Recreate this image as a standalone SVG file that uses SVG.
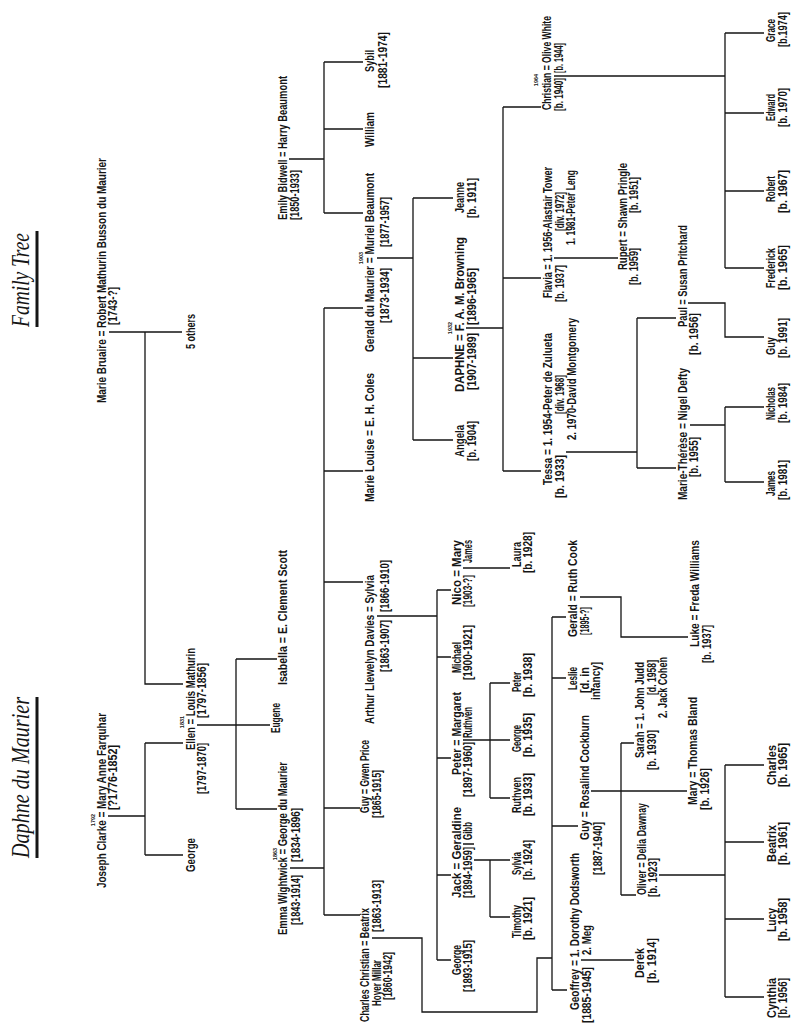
<svg xmlns="http://www.w3.org/2000/svg" width="810" height="1028" viewBox="0 0 810 1028">
<style>
text{font-family:"Liberation Sans Narrow","Liberation Sans",Arial,sans-serif;font-weight:bold;font-size:12.3px;fill:#151515}
.yr{font-size:5.5px;text-anchor:middle}
.title{font-family:"Liberation Serif","Times New Roman",serif;font-style:italic;font-weight:normal;font-size:25px}
#connectors path{fill:none;stroke:#151515;stroke-width:1.3}
.ul{stroke:#151515;stroke-width:3}
</style>
<rect width="810" height="1028" fill="#fff"/>
<g transform="matrix(0,-1,1,0,0,1028)">
<g id="titles">
<text class="title" x="170" y="29" textLength="161" lengthAdjust="spacingAndGlyphs">Daphne du Maurier</text>
<line class="ul" x1="170" y1="37" x2="331" y2="37"/>
<text class="title" x="701" y="29" textLength="94" lengthAdjust="spacingAndGlyphs">Family Tree</text>
<line class="ul" x1="701" y1="37" x2="797" y2="37"/>
</g>
<g id="connectors">
<path d="M696,109V182M696,145H344V183"/>
<path d="M212,108V145M173,145H285M173,145V183M285,145V183"/>
<path d="M303,197V270M219,236H369M219,236V277M369,236V277"/>
<path d="M160,290V324M113,324H720M113,324V360M220,324V360M446,324V363M557,324V363M720,324V363"/>
<path d="M869,289V324M815,324H966M815,324V363M899,324V363M966,324V363"/>
<path d="M90,372V422H16V537H70V552M38,552H411M38,552V567M202,552V578M350,552V566M411,552V566"/>
<path d="M412,377V437M68,437H438M68,437V451M153,437V451M270,437V451M371,437V451M438,437V451"/>
<path d="M770,377V413M588,413H830M588,413V453M670,413V453M830,413V453"/>
<path d="M184,463V474M168,474V510M111,490H168M111,490V510"/>
<path d="M288,463V510M230,490H345M230,490V510M345,490V510"/>
<path d="M460,463V510"/>
<path d="M700,466V503M557,503H921M557,503V541M750,503V541M921,503V541"/>
<path d="M576,566V637M560,637H710M560,637V676M710,637V676"/>
<path d="M770,554V618"/>
<path d="M952,554V725M760,725H995M760,725V764M837,725V764M915,725V764M995,725V764"/>
<path d="M603,690V725M546,725H621M546,725V764M621,725V764"/>
<path d="M725,688V725H691V764"/>
<path d="M68,581V634"/>
<path d="M237,591V621M133,621H285M133,621V636M237,621V687M285,621V634"/>
<path d="M431,580V621H391V688"/>
<path d="M153,659V725M31,725H263M31,725V764M109,725V764M186,725V764M263,725V764"/>
</g>
<g id="n-bruaire"><text x="625" y="106" textLength="245" lengthAdjust="spacingAndGlyphs">Marie Bruaire = Robert Mathurin Busson du Maurier</text><text x="703" y="117" textLength="38" lengthAdjust="spacingAndGlyphs">[1743-?]</text></g>
<g id="n-5others"><text x="679" y="195" textLength="35" lengthAdjust="spacingAndGlyphs">5 others</text></g>
<g id="n-clarke"><text class="yr" x="208" y="95">1792</text><text x="140" y="106" textLength="175" lengthAdjust="spacingAndGlyphs">Joseph Clarke = Mary Anne Farquhar</text><text x="218" y="117" textLength="65" lengthAdjust="spacingAndGlyphs">[?1776-1852]</text></g>
<g id="n-george1"><text x="156" y="195" textLength="34" lengthAdjust="spacingAndGlyphs">George</text></g>
<g id="n-ellen"><text class="yr" x="306" y="184">1831</text><text x="278" y="195" textLength="102" lengthAdjust="spacingAndGlyphs">Ellen = Louis Mathurin</text><text x="234" y="206" textLength="51" lengthAdjust="spacingAndGlyphs">[1797-1870]</text><text x="310" y="206" textLength="55" lengthAdjust="spacingAndGlyphs">[1797-1856]</text></g>
<g id="n-eugene"><text x="295" y="280" textLength="30" lengthAdjust="spacingAndGlyphs">Eugene</text></g>
<g id="n-isabella"><text x="343" y="287" textLength="135" lengthAdjust="spacingAndGlyphs">Isabella = E. Clement Scott</text></g>
<g id="n-emma"><text class="yr" x="174" y="277">1863</text><text x="93" y="287" textLength="173" lengthAdjust="spacingAndGlyphs">Emma Wightwick = George du Maurier</text><text x="103" y="300" textLength="50" lengthAdjust="spacingAndGlyphs">[1843-1914]</text><text x="166" y="300" textLength="54" lengthAdjust="spacingAndGlyphs">[1834-1896]</text></g>
<g id="n-bidwell"><text x="808" y="287" textLength="144" lengthAdjust="spacingAndGlyphs">Emily Bidwell = Harry Beaumont</text><text x="808" y="299" textLength="50" lengthAdjust="spacingAndGlyphs">[1850-1933]</text></g>
<g id="n-charles"><text x="6" y="369" textLength="114" lengthAdjust="spacingAndGlyphs">Charles Christian = Beatrix</text><text x="22" y="381" textLength="46" lengthAdjust="spacingAndGlyphs">Hoyer Millar</text><text x="96" y="381" textLength="52" lengthAdjust="spacingAndGlyphs">[1863-1913]</text><text x="28" y="392" textLength="48" lengthAdjust="spacingAndGlyphs">[1860-1942]</text></g>
<g id="n-guy1"><text x="215" y="369" textLength="73" lengthAdjust="spacingAndGlyphs">Guy = Gwen Price</text><text x="210" y="381" textLength="48" lengthAdjust="spacingAndGlyphs">[1865-1915]</text></g>
<g id="n-arthur"><text x="304" y="374" textLength="149" lengthAdjust="spacingAndGlyphs">Arthur Llewelyn Davies = Sylvia</text><text x="356" y="389" textLength="52" lengthAdjust="spacingAndGlyphs">[1863-1907]</text><text x="416" y="389" textLength="52" lengthAdjust="spacingAndGlyphs">[1866-1910]</text></g>
<g id="n-marielouise"><text x="526" y="374" textLength="129" lengthAdjust="spacingAndGlyphs">Marie Louise = E. H. Coles</text></g>
<g id="n-gerald1"><text class="yr" x="770" y="363">1903</text><text x="676" y="374" textLength="179" lengthAdjust="spacingAndGlyphs">Gerald du Maurier = Muriel Beaumont</text><text x="705" y="389" textLength="55" lengthAdjust="spacingAndGlyphs">[1873-1934]</text><text x="781" y="389" textLength="50" lengthAdjust="spacingAndGlyphs">[1877-1957]</text></g>
<g id="n-william"><text x="881" y="374" textLength="35" lengthAdjust="spacingAndGlyphs">William</text></g>
<g id="n-sybil"><text x="956" y="374" textLength="22" lengthAdjust="spacingAndGlyphs">Sybil</text><text x="940" y="387" textLength="56" lengthAdjust="spacingAndGlyphs">[1881-1974]</text></g>
<g id="n-george2"><text x="53" y="461" textLength="30" lengthAdjust="spacingAndGlyphs">George</text><text x="36" y="472" textLength="52" lengthAdjust="spacingAndGlyphs">[1893-1915]</text></g>
<g id="n-jack"><text x="130" y="461" textLength="91" lengthAdjust="spacingAndGlyphs">Jack = Geraldine</text><text x="130" y="472" textLength="51" lengthAdjust="spacingAndGlyphs">[1894-1959]</text><text x="188" y="472" textLength="18" lengthAdjust="spacingAndGlyphs">Gibb</text></g>
<g id="n-peter1"><text x="253" y="461" textLength="83" lengthAdjust="spacingAndGlyphs">Peter = Margaret</text><text x="231" y="472" textLength="55" lengthAdjust="spacingAndGlyphs">[1897-1960]</text><text x="290" y="472" textLength="31" lengthAdjust="spacingAndGlyphs">Ruthven</text></g>
<g id="n-michael"><text x="355" y="461" textLength="31" lengthAdjust="spacingAndGlyphs">Michael</text><text x="348" y="472" textLength="55" lengthAdjust="spacingAndGlyphs">[1900-1921]</text></g>
<g id="n-nico"><text x="423" y="461" textLength="65" lengthAdjust="spacingAndGlyphs">Nico = Mary</text><text x="421" y="472" textLength="32" lengthAdjust="spacingAndGlyphs">[1903-?]</text><text x="465" y="472" textLength="23" lengthAdjust="spacingAndGlyphs">James</text></g>
<g id="n-angela"><text x="571" y="464" textLength="32" lengthAdjust="spacingAndGlyphs">Angela</text><text x="567" y="476" textLength="40" lengthAdjust="spacingAndGlyphs">[b. 1904]</text></g>
<g id="n-daphne"><text class="yr" x="700" y="452">1932</text><text x="636" y="464" textLength="155" lengthAdjust="spacingAndGlyphs">DAPHNE = F. A. M. Browning</text><text x="638" y="476" textLength="57" lengthAdjust="spacingAndGlyphs">[1907-1989]</text><text x="703" y="476" textLength="57" lengthAdjust="spacingAndGlyphs">[1896-1965]</text></g>
<g id="n-jeanne"><text x="815" y="464" textLength="31" lengthAdjust="spacingAndGlyphs">Jeanne</text><text x="810" y="476" textLength="40" lengthAdjust="spacingAndGlyphs">[b. 1911]</text></g>
<g id="n-timothy"><text x="90" y="521" textLength="33" lengthAdjust="spacingAndGlyphs">Timothy</text><text x="88" y="532" textLength="43" lengthAdjust="spacingAndGlyphs">[b. 1921]</text></g>
<g id="n-sylvia"><text x="153" y="521" textLength="23" lengthAdjust="spacingAndGlyphs">Sylvia</text><text x="148" y="532" textLength="40" lengthAdjust="spacingAndGlyphs">[b. 1924]</text></g>
<g id="n-ruthven"><text x="215" y="521" textLength="36" lengthAdjust="spacingAndGlyphs">Ruthven</text><text x="212" y="532" textLength="43" lengthAdjust="spacingAndGlyphs">[b. 1933]</text></g>
<g id="n-george3"><text x="276" y="521" textLength="27" lengthAdjust="spacingAndGlyphs">George</text><text x="271" y="532" textLength="44" lengthAdjust="spacingAndGlyphs">[b. 1935]</text></g>
<g id="n-peter2"><text x="336" y="521" textLength="20" lengthAdjust="spacingAndGlyphs">Peter</text><text x="331" y="532" textLength="44" lengthAdjust="spacingAndGlyphs">[b. 1938]</text></g>
<g id="n-laura"><text x="461" y="521" textLength="25" lengthAdjust="spacingAndGlyphs">Laura</text><text x="455" y="532" textLength="41" lengthAdjust="spacingAndGlyphs">[b. 1928]</text></g>
<g id="n-tessa"><text x="543" y="552" textLength="152" lengthAdjust="spacingAndGlyphs">Tessa = 1. 1954-Peter de Zulueta</text><text x="530" y="564" textLength="43" lengthAdjust="spacingAndGlyphs">[b. 1933]</text><text x="614" y="564" textLength="39" lengthAdjust="spacingAndGlyphs">[div. 1968]</text><text x="588" y="576" textLength="122" lengthAdjust="spacingAndGlyphs">2. 1970-David Montgomery</text></g>
<g id="n-flavia"><text x="730" y="552" textLength="131" lengthAdjust="spacingAndGlyphs">Flavia = 1. 1956-Alastair Tower</text><text x="726" y="564" textLength="37" lengthAdjust="spacingAndGlyphs">[b. 1937]</text><text x="797" y="564" textLength="39" lengthAdjust="spacingAndGlyphs">[div. 1972]</text><text x="783" y="575" textLength="75" lengthAdjust="spacingAndGlyphs">1. 1981-Peter Leng</text></g>
<g id="n-christian"><text class="yr" x="948" y="538">1964</text><text x="918" y="551" textLength="94" lengthAdjust="spacingAndGlyphs">Christian = Olive White</text><text x="917" y="563" textLength="33" lengthAdjust="spacingAndGlyphs">[b. 1940]</text><text x="955" y="563" textLength="30" lengthAdjust="spacingAndGlyphs">[b. 1944]</text></g>
<g id="n-rupert"><text x="758" y="627" textLength="107" lengthAdjust="spacingAndGlyphs">Rupert = Shawn Pringle</text><text x="743" y="638" textLength="37" lengthAdjust="spacingAndGlyphs">[b. 1959]</text><text x="815" y="638" textLength="36" lengthAdjust="spacingAndGlyphs">[b. 1951]</text></g>
<g id="n-marietherese"><text x="528" y="687" textLength="132" lengthAdjust="spacingAndGlyphs">Marie-Thérèse = Nigel Defty</text><text x="551" y="698" textLength="40" lengthAdjust="spacingAndGlyphs">[b. 1955]</text></g>
<g id="n-paul"><text x="701" y="687" textLength="102" lengthAdjust="spacingAndGlyphs">Paul = Susan Pritchard</text><text x="673" y="698" textLength="42" lengthAdjust="spacingAndGlyphs">[b. 1956]</text></g>
<g id="n-frederick"><text x="740" y="775" textLength="40" lengthAdjust="spacingAndGlyphs">Frederick</text><text x="738" y="787" textLength="45" lengthAdjust="spacingAndGlyphs">[b. 1965]</text></g>
<g id="n-robert"><text x="826" y="775" textLength="26" lengthAdjust="spacingAndGlyphs">Robert</text><text x="815" y="787" textLength="43" lengthAdjust="spacingAndGlyphs">[b. 1967]</text></g>
<g id="n-edward"><text x="907" y="775" textLength="27" lengthAdjust="spacingAndGlyphs">Edward</text><text x="901" y="787" textLength="39" lengthAdjust="spacingAndGlyphs">[b. 1970]</text></g>
<g id="n-grace"><text x="986" y="775" textLength="23" lengthAdjust="spacingAndGlyphs">Grace</text><text x="981" y="787" textLength="35" lengthAdjust="spacingAndGlyphs">[b.1974]</text></g>
<g id="n-james"><text x="532" y="775" textLength="25" lengthAdjust="spacingAndGlyphs">James</text><text x="528" y="787" textLength="40" lengthAdjust="spacingAndGlyphs">[b. 1981]</text></g>
<g id="n-nicholas"><text x="608" y="775" textLength="33" lengthAdjust="spacingAndGlyphs">Nicholas</text><text x="605" y="787" textLength="40" lengthAdjust="spacingAndGlyphs">[b. 1984]</text></g>
<g id="n-guy3"><text x="673" y="775" textLength="18" lengthAdjust="spacingAndGlyphs">Guy</text><text x="670" y="787" textLength="40" lengthAdjust="spacingAndGlyphs">[b. 1991]</text></g>
<g id="n-geoffrey"><text x="18" y="579" textLength="157" lengthAdjust="spacingAndGlyphs">Geoffrey = 1. Dorothy Dodsworth</text><text x="5" y="591" textLength="56" lengthAdjust="spacingAndGlyphs">[1885-1945]</text><text x="73" y="591" textLength="30" lengthAdjust="spacingAndGlyphs">2. Meg</text></g>
<g id="n-guy2"><text x="188" y="589" textLength="125" lengthAdjust="spacingAndGlyphs">Guy = Rosalind Cockburn</text><text x="153" y="602" textLength="53" lengthAdjust="spacingAndGlyphs">[1887-1940]</text></g>
<g id="n-leslie"><text x="338" y="577" textLength="23" lengthAdjust="spacingAndGlyphs">Leslie</text><text x="335" y="589" textLength="26" lengthAdjust="spacingAndGlyphs">[d. in</text><text x="328" y="600" textLength="38" lengthAdjust="spacingAndGlyphs">infancy]</text></g>
<g id="n-gerald2"><text x="391" y="577" textLength="97" lengthAdjust="spacingAndGlyphs">Gerald = Ruth Cook</text><text x="393" y="589" textLength="28" lengthAdjust="spacingAndGlyphs">[1895-?]</text></g>
<g id="n-derek"><text x="50" y="644" textLength="30" lengthAdjust="spacingAndGlyphs">Derek</text><text x="45" y="656" textLength="45" lengthAdjust="spacingAndGlyphs">[b. 1914]</text></g>
<g id="n-oliver"><text x="133" y="646" textLength="92" lengthAdjust="spacingAndGlyphs">Oliver = Delia Dawnay</text><text x="131" y="657" textLength="39" lengthAdjust="spacingAndGlyphs">[b. 1923]</text></g>
<g id="n-mary"><text x="223" y="697" textLength="108" lengthAdjust="spacingAndGlyphs">Mary = Thomas Bland</text><text x="218" y="709" textLength="42" lengthAdjust="spacingAndGlyphs">[b. 1926]</text></g>
<g id="n-sarah"><text x="270" y="644" textLength="96" lengthAdjust="spacingAndGlyphs">Sarah = 1. John Judd</text><text x="258" y="656" textLength="40" lengthAdjust="spacingAndGlyphs">[b. 1930]</text><text x="333" y="656" textLength="35" lengthAdjust="spacingAndGlyphs">[d. 1958]</text><text x="310" y="667" textLength="61" lengthAdjust="spacingAndGlyphs">2. Jack Cohen</text></g>
<g id="n-luke"><text x="381" y="699" textLength="107" lengthAdjust="spacingAndGlyphs">Luke = Freda Williams</text><text x="365" y="711" textLength="38" lengthAdjust="spacingAndGlyphs">[b. 1937]</text></g>
<g id="n-cynthia"><text x="10" y="776" textLength="40" lengthAdjust="spacingAndGlyphs">Cynthia</text><text x="10" y="787" textLength="40" lengthAdjust="spacingAndGlyphs">[b. 1956]</text></g>
<g id="n-lucy"><text x="96" y="776" textLength="24" lengthAdjust="spacingAndGlyphs">Lucy</text><text x="87" y="787" textLength="43" lengthAdjust="spacingAndGlyphs">[b. 1958]</text></g>
<g id="n-beatrix"><text x="166" y="776" textLength="37" lengthAdjust="spacingAndGlyphs">Beatrix</text><text x="163" y="787" textLength="43" lengthAdjust="spacingAndGlyphs">[b. 1961]</text></g>
<g id="n-charles2"><text x="243" y="776" textLength="40" lengthAdjust="spacingAndGlyphs">Charles</text><text x="241" y="787" textLength="44" lengthAdjust="spacingAndGlyphs">[b. 1965]</text></g>
</g>
</svg>
